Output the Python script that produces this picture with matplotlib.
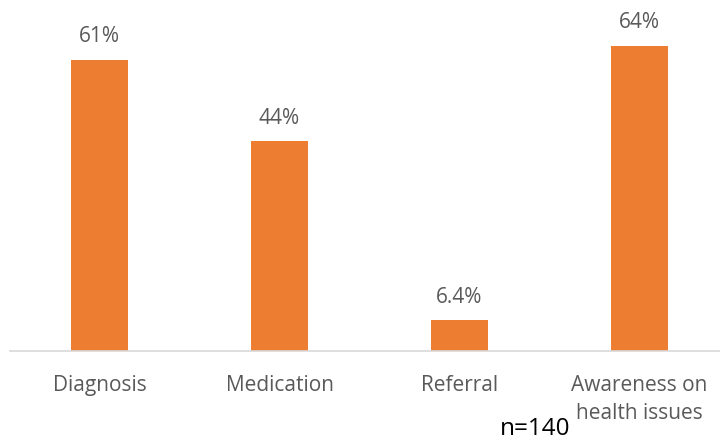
import matplotlib
matplotlib.use("Agg")
import matplotlib.pyplot as plt

categories = ["Diagnosis", "Medication", "Referral", "Awareness on\nhealth issues"]
values = [61, 44, 6.4, 64]
value_labels = ["61%", "44%", "6.4%", "64%"]

plt.rcParams['font.family'] = ['Open Sans', 'DejaVu Sans']

fig = plt.figure(figsize=(7.2, 4.42), dpi=100)
W, H = 720, 442
ax = fig.add_axes([9.5 / W, (H - 351) / H, 720 / W, 334 / H])

x = range(len(categories))
ax.bar(x, values, width=0.317, color="#ED7D31")
ax.set_xlim(-0.5, 3.5)
ax.set_ylim(0, 70)

for xi, v, lab in zip(x, values, value_labels):
    ax.annotate(lab, (xi, v), xytext=(0, 9), textcoords="offset points",
                ha="center", va="bottom", fontsize=15, color="#595959")

ax.set_xticks(list(x))
ax.set_xticklabels(categories, fontsize=15, color="#595959", linespacing=1.45)
ax.tick_params(axis="x", length=0, pad=17)
ax.set_yticks([])
for s in ["top", "right", "left"]:
    ax.spines[s].set_visible(False)
ax.spines["bottom"].set_color("#D9D9D9")
ax.spines["bottom"].set_linewidth(1.2)

fig.text(535 / W, 1 - 435 / H, "n=140", ha="center", va="baseline",
         fontsize=17.5, color="black")

fig.savefig("out.png", dpi=100, facecolor="white")
